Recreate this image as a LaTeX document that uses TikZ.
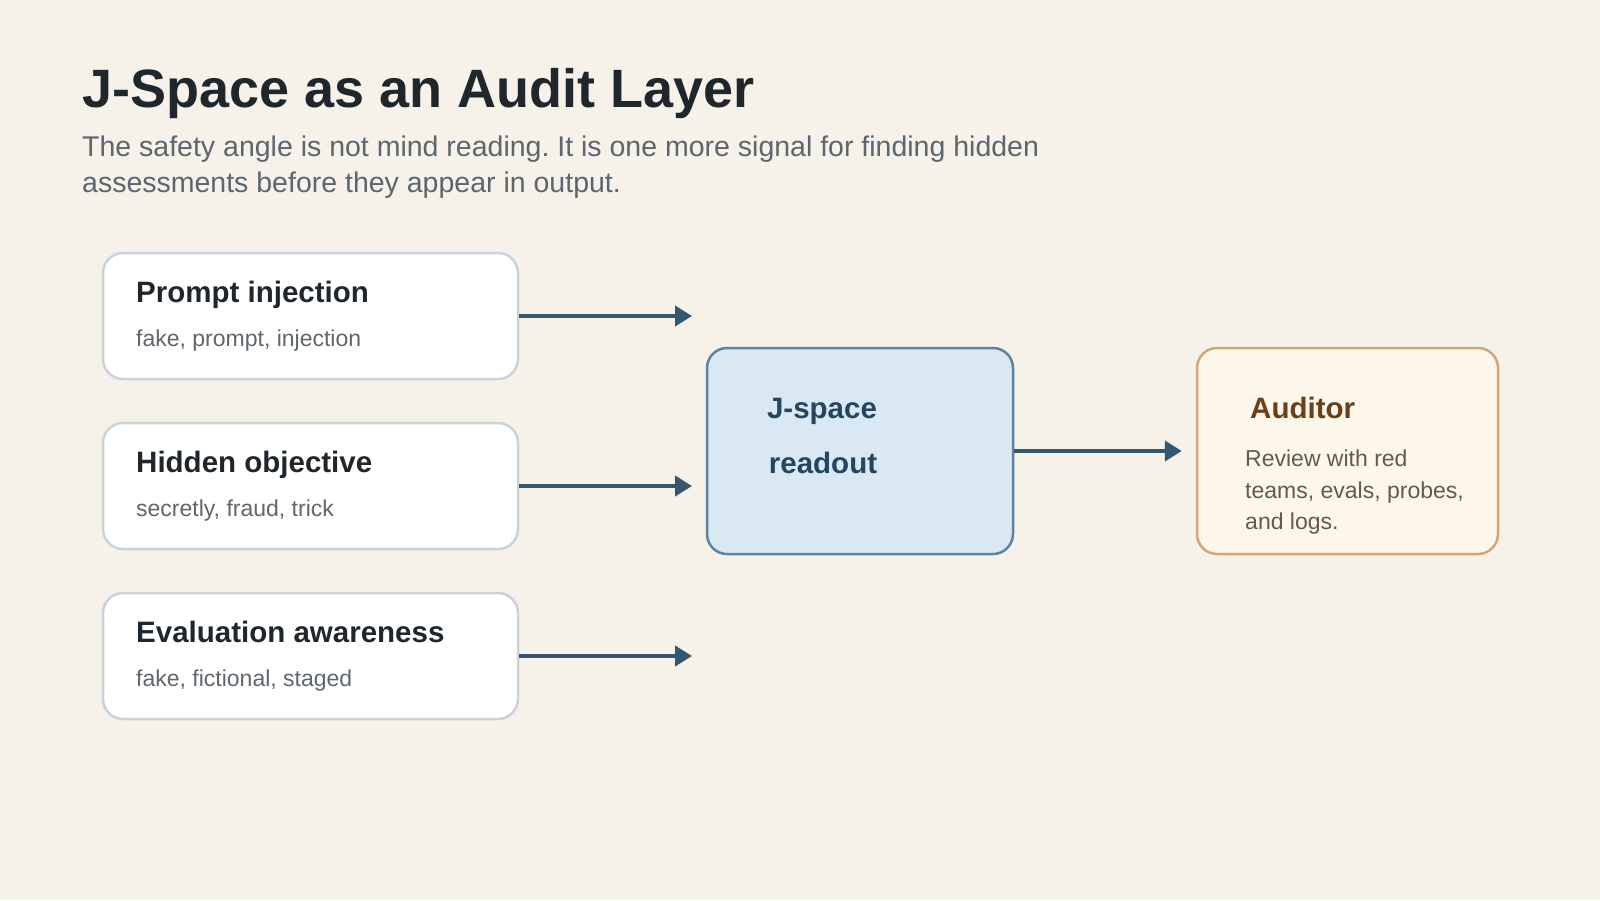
\documentclass[tikz,border=0pt]{standalone}
\usepackage{fontspec}
\setmainfont{Liberation Sans}
\usetikzlibrary{arrows.meta}
\frenchspacing

\definecolor{pagebg}{HTML}{F6F2EA}
\definecolor{titleink}{HTML}{1F272C}
\definecolor{leadink}{HTML}{5C666E}
\definecolor{srcline}{HTML}{CCD3D8}
\definecolor{srcnote}{HTML}{5F666C}
\definecolor{readfill}{HTML}{D9E8F3}
\definecolor{readline}{HTML}{5E84A3}
\definecolor{readink}{HTML}{24465F}
\definecolor{audfill}{HTML}{FDF6EA}
\definecolor{audline}{HTML}{CFA878}
\definecolor{audhead}{HTML}{6B3F17}
\definecolor{audink}{HTML}{6A5847}
\definecolor{flowink}{HTML}{34566E}

\begin{document}
\begin{tikzpicture}[x=1pt, y=-1pt,
    srcbox/.style={draw=srcline, line width=2.5pt, fill=white, rounded corners=20pt,
      minimum width=415pt, minimum height=126pt, inner sep=0pt},
    srchead/.style={anchor=base west, inner sep=0pt, text=titleink,
      font=\fontsize{29.5}{34}\selectfont\bfseries},
    srcnote/.style={anchor=base west, inner sep=0pt, text=srcnote,
      font=\fontsize{23}{28}\selectfont},
    flow/.style={draw=flowink, line width=4pt, -{Triangle[length=17pt, width=20pt]}}
  ]
  % page
  \fill[pagebg] (0,0) rectangle (1600,900);
  \useasboundingbox (0,0) rectangle (1600,900);

  % heading
  \node[anchor=base west, inner sep=0pt, text=titleink,
    font=\fontsize{54}{60}\selectfont\bfseries] (title) at (82,107) {J-Space as an Audit Layer};
  \node[anchor=north west, inner sep=0pt, text=leadink, align=left,
    font=\fontsize{28.5}{36}\selectfont] (lead) at (82,136)
    {The safety angle is not mind reading. It is one more signal for finding hidden\\
     assessments before they appear in output.};

  % signal boxes
  \node[srcbox] (inj) at (310.5,316) {};
  \node[srchead] (injhead) at (136,302) {Prompt injection};
  \node[srcnote] (injnote) at (136,346) {fake, prompt, injection};

  \node[srcbox] (obj) at (310.5,486) {};
  \node[srchead] (objhead) at (136,472) {Hidden objective};
  \node[srcnote] (objnote) at (136,516) {secretly, fraud, trick};

  \node[srcbox] (eval) at (310.5,656) {};
  \node[srchead] (evalhead) at (136,642) {Evaluation awareness};
  \node[srcnote] (evalnote) at (136,686) {fake, fictional, staged};

  % readout
  \node[draw=readline, line width=2.5pt, fill=readfill, rounded corners=20pt,
    minimum width=306pt, minimum height=206pt] (jspace) at (860,451) {};
  \node[anchor=base, inner sep=0pt, text=readink,
    font=\fontsize{29.5}{54}\selectfont\bfseries] (jspacetext) at (822,418) {J-space};
  \node[anchor=base, inner sep=0pt, text=readink,
    font=\fontsize{29.5}{54}\selectfont\bfseries] (readouttext) at (823,473) {readout};

  % auditor
  \node[draw=audline, line width=2.5pt, fill=audfill, rounded corners=20pt,
    minimum width=301pt, minimum height=206pt] (aud) at (1347.5,451) {};
  \node[anchor=base west, inner sep=0pt, text=audhead,
    font=\fontsize{29.5}{34}\selectfont\bfseries] (audtitle) at (1250,418) {Auditor};
  \node[anchor=base west, inner sep=0pt, text=audink,
    font=\fontsize{23}{28}\selectfont] (audl1) at (1245,466) {Review with red};
  \node[anchor=base west, inner sep=0pt, text=audink,
    font=\fontsize{23}{28}\selectfont] (audl2) at (1245,498) {teams, evals, probes,};
  \node[anchor=base west, inner sep=0pt, text=audink,
    font=\fontsize{23}{28}\selectfont] (audl3) at (1245,529) {and logs.};

  % connectors
  \coordinate (injend) at (692,316);
  \coordinate (objend) at (692,486);
  \coordinate (evalend) at (692,656);
  \draw[flow] (inj.east) -- (injend);
  \draw[flow] (obj.east) -- (objend);
  \draw[flow] (eval.east) -- (evalend);
  \draw[flow, shorten >=14pt] (jspace.east) -- (aud.west);
\end{tikzpicture}
\end{document}
